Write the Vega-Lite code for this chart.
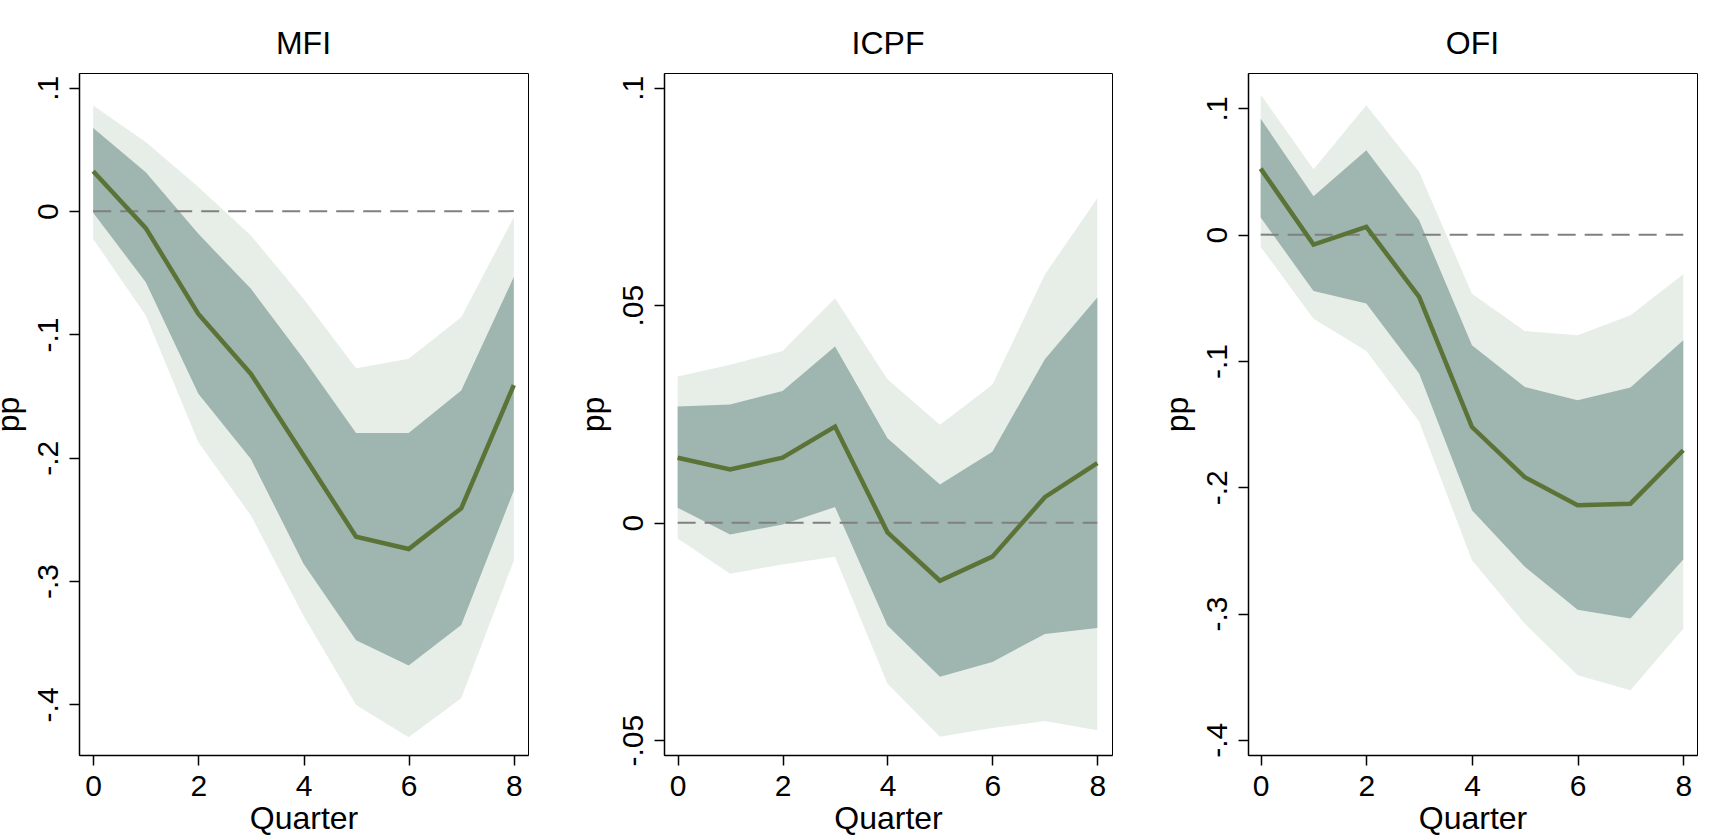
{
  "$schema": "https://vega.github.io/schema/vega-lite/v6.json",
  "background": "white",
  "autosize": {"type": "pad"},
  "padding": {"left": -9, "top": 27, "right": 25, "bottom": 0},
  "bounds": "flush",
  "spacing": 136,
  "data": {"values": [
    {"panel": "MFI", "q": 0, "est": 0.0324, "lo_in": -0.0014, "hi_in": 0.0675, "lo_out": -0.0225, "hi_out": 0.0857},
    {"panel": "MFI", "q": 1, "est": -0.0138, "lo_in": -0.0576, "hi_in": 0.0316, "lo_out": -0.0847, "hi_out": 0.056},
    {"panel": "MFI", "q": 2, "est": -0.0833, "lo_in": -0.148, "hi_in": -0.0184, "lo_out": -0.1874, "hi_out": 0.0195},
    {"panel": "MFI", "q": 3, "est": -0.132, "lo_in": -0.201, "hi_in": -0.063, "lo_out": -0.2469, "hi_out": -0.0198},
    {"panel": "MFI", "q": 4, "est": -0.198, "lo_in": -0.286, "hi_in": -0.1198, "lo_out": -0.328, "hi_out": -0.0711},
    {"panel": "MFI", "q": 5, "est": -0.264, "lo_in": -0.348, "hi_in": -0.18, "lo_out": -0.4004, "hi_out": -0.1274},
    {"panel": "MFI", "q": 6, "est": -0.274, "lo_in": -0.3685, "hi_in": -0.18, "lo_out": -0.4266, "hi_out": -0.1198},
    {"panel": "MFI", "q": 7, "est": -0.241, "lo_in": -0.3355, "hi_in": -0.1455, "lo_out": -0.395, "hi_out": -0.086},
    {"panel": "MFI", "q": 8, "est": -0.141, "lo_in": -0.2266, "hi_in": -0.0535, "lo_out": -0.2834, "hi_out": -0.0049},
    {"panel": "ICPF", "q": 0, "est": 0.01495, "lo_in": 0.00345, "hi_in": 0.0267, "lo_out": -0.0036, "hi_out": 0.0336},
    {"panel": "ICPF", "q": 1, "est": 0.01226, "lo_in": -0.0027, "hi_in": 0.0272, "lo_out": -0.0117, "hi_out": 0.0363},
    {"panel": "ICPF", "q": 2, "est": 0.01495, "lo_in": -0.0004, "hi_in": 0.0303, "lo_out": -0.0096, "hi_out": 0.0395},
    {"panel": "ICPF", "q": 3, "est": 0.0221, "lo_in": 0.0036, "hi_in": 0.0405, "lo_out": -0.0078, "hi_out": 0.0516},
    {"panel": "ICPF", "q": 4, "est": -0.0022, "lo_in": -0.0236, "hi_in": 0.0194, "lo_out": -0.037, "hi_out": 0.033},
    {"panel": "ICPF", "q": 5, "est": -0.01334, "lo_in": -0.0354, "hi_in": 0.0088, "lo_out": -0.0492, "hi_out": 0.0225},
    {"panel": "ICPF", "q": 6, "est": -0.0078, "lo_in": -0.032, "hi_in": 0.0163, "lo_out": -0.0472, "hi_out": 0.0317},
    {"panel": "ICPF", "q": 7, "est": 0.00587, "lo_in": -0.02556, "hi_in": 0.0376, "lo_out": -0.0456, "hi_out": 0.0571},
    {"panel": "ICPF", "q": 8, "est": 0.0137, "lo_in": -0.0242, "hi_in": 0.0518, "lo_out": -0.0477, "hi_out": 0.0746},
    {"panel": "OFI", "q": 0, "est": 0.0523, "lo_in": 0.0135, "hi_in": 0.0918, "lo_out": -0.0097, "hi_out": 0.111},
    {"panel": "OFI", "q": 1, "est": -0.0079, "lo_in": -0.0446, "hi_in": 0.0304, "lo_out": -0.0665, "hi_out": 0.0518},
    {"panel": "OFI", "q": 2, "est": 0.0061, "lo_in": -0.0546, "hi_in": 0.0668, "lo_out": -0.0921, "hi_out": 0.1024},
    {"panel": "OFI", "q": 3, "est": -0.0493, "lo_in": -0.11, "hi_in": 0.0114, "lo_out": -0.148, "hi_out": 0.0496},
    {"panel": "OFI", "q": 4, "est": -0.1523, "lo_in": -0.2182, "hi_in": -0.0876, "lo_out": -0.2578, "hi_out": -0.0467},
    {"panel": "OFI", "q": 5, "est": -0.192, "lo_in": -0.263, "hi_in": -0.1206, "lo_out": -0.308, "hi_out": -0.0762},
    {"panel": "OFI", "q": 6, "est": -0.2143, "lo_in": -0.2969, "hi_in": -0.1311, "lo_out": -0.3489, "hi_out": -0.0797},
    {"panel": "OFI", "q": 7, "est": -0.213, "lo_in": -0.304, "hi_in": -0.1211, "lo_out": -0.3607, "hi_out": -0.0638},
    {"panel": "OFI", "q": 8, "est": -0.1707, "lo_in": -0.2573, "hi_in": -0.0836, "lo_out": -0.312, "hi_out": -0.0314}
  ]},
  "hconcat": [
    {
      "title": "MFI",
      "width": 449, "height": 682,
      "transform": [{"filter": "datum.panel === 'MFI'"}],
      "encoding": {"x": {"field": "q", "type": "quantitative", "title": "Quarter", "scale": {"domain": [-0.27, 8.27], "nice": false, "zero": false}, "axis": {"values": [0, 2, 4, 6, 8]}}},
      "layer": [
        {"mark": {"type": "area", "color": "#e7eee7", "opacity": 1}, "encoding": {"y": {"field": "lo_out", "type": "quantitative", "title": "pp", "scale": {"domain": [-0.441, 0.112], "nice": false, "zero": false}, "axis": {"values": [-0.4, -0.3, -0.2, -0.1, 0, 0.1]}}, "y2": {"field": "hi_out"}}},
        {"mark": {"type": "area", "color": "#9eb5b0", "opacity": 1}, "encoding": {"y": {"field": "lo_in", "type": "quantitative", "title": "pp", "scale": {"domain": [-0.441, 0.112], "nice": false, "zero": false}, "axis": {"values": [-0.4, -0.3, -0.2, -0.1, 0, 0.1]}}, "y2": {"field": "hi_in"}}},
        {"transform": [{"filter": "datum.q === 0"}], "mark": {"type": "rule", "color": "#808080", "strokeWidth": 2, "strokeDash": [18, 9]}, "encoding": {"x": {"datum": 0}, "x2": {"datum": 8}, "y": {"datum": 0, "type": "quantitative", "title": "pp", "scale": {"domain": [-0.441, 0.112], "nice": false, "zero": false}, "axis": {"values": [-0.4, -0.3, -0.2, -0.1, 0, 0.1]}}}},
        {"mark": {"type": "line", "color": "#5c7338", "strokeWidth": 4.5}, "encoding": {"y": {"field": "est", "type": "quantitative", "title": "pp", "scale": {"domain": [-0.441, 0.112], "nice": false, "zero": false}, "axis": {"values": [-0.4, -0.3, -0.2, -0.1, 0, 0.1]}}}}
      ]
    },
    {
      "title": "ICPF",
      "width": 448, "height": 682,
      "transform": [{"filter": "datum.panel === 'ICPF'"}],
      "encoding": {"x": {"field": "q", "type": "quantitative", "title": "Quarter", "scale": {"domain": [-0.26, 8.28], "nice": false, "zero": false}, "axis": {"values": [0, 2, 4, 6, 8]}}},
      "layer": [
        {"mark": {"type": "area", "color": "#e7eee7", "opacity": 1}, "encoding": {"y": {"field": "lo_out", "type": "quantitative", "title": "pp", "scale": {"domain": [-0.0534, 0.1034], "nice": false, "zero": false}, "axis": {"values": [-0.05, 0, 0.05, 0.1]}}, "y2": {"field": "hi_out"}}},
        {"mark": {"type": "area", "color": "#9eb5b0", "opacity": 1}, "encoding": {"y": {"field": "lo_in", "type": "quantitative", "title": "pp", "scale": {"domain": [-0.0534, 0.1034], "nice": false, "zero": false}, "axis": {"values": [-0.05, 0, 0.05, 0.1]}}, "y2": {"field": "hi_in"}}},
        {"transform": [{"filter": "datum.q === 0"}], "mark": {"type": "rule", "color": "#808080", "strokeWidth": 2, "strokeDash": [18, 9]}, "encoding": {"x": {"datum": 0}, "x2": {"datum": 8}, "y": {"datum": 0, "type": "quantitative", "title": "pp", "scale": {"domain": [-0.0534, 0.1034], "nice": false, "zero": false}, "axis": {"values": [-0.05, 0, 0.05, 0.1]}}}},
        {"mark": {"type": "line", "color": "#5c7338", "strokeWidth": 4.5}, "encoding": {"y": {"field": "est", "type": "quantitative", "title": "pp", "scale": {"domain": [-0.0534, 0.1034], "nice": false, "zero": false}, "axis": {"values": [-0.05, 0, 0.05, 0.1]}}}}
      ]
    },
    {
      "title": "OFI",
      "width": 449, "height": 682,
      "transform": [{"filter": "datum.panel === 'OFI'"}],
      "encoding": {"x": {"field": "q", "type": "quantitative", "title": "Quarter", "scale": {"domain": [-0.24, 8.26], "nice": false, "zero": false}, "axis": {"values": [0, 2, 4, 6, 8]}}},
      "layer": [
        {"mark": {"type": "area", "color": "#e7eee7", "opacity": 1}, "encoding": {"y": {"field": "lo_out", "type": "quantitative", "title": "pp", "scale": {"domain": [-0.412, 0.128], "nice": false, "zero": false}, "axis": {"values": [-0.4, -0.3, -0.2, -0.1, 0, 0.1]}}, "y2": {"field": "hi_out"}}},
        {"mark": {"type": "area", "color": "#9eb5b0", "opacity": 1}, "encoding": {"y": {"field": "lo_in", "type": "quantitative", "title": "pp", "scale": {"domain": [-0.412, 0.128], "nice": false, "zero": false}, "axis": {"values": [-0.4, -0.3, -0.2, -0.1, 0, 0.1]}}, "y2": {"field": "hi_in"}}},
        {"transform": [{"filter": "datum.q === 0"}], "mark": {"type": "rule", "color": "#808080", "strokeWidth": 2, "strokeDash": [18, 9]}, "encoding": {"x": {"datum": 0}, "x2": {"datum": 8}, "y": {"datum": 0, "type": "quantitative", "title": "pp", "scale": {"domain": [-0.412, 0.128], "nice": false, "zero": false}, "axis": {"values": [-0.4, -0.3, -0.2, -0.1, 0, 0.1]}}}},
        {"mark": {"type": "line", "color": "#5c7338", "strokeWidth": 4.5}, "encoding": {"y": {"field": "est", "type": "quantitative", "title": "pp", "scale": {"domain": [-0.412, 0.128], "nice": false, "zero": false}, "axis": {"values": [-0.4, -0.3, -0.2, -0.1, 0, 0.1]}}}}
      ]
    }
  ],
  "config": {
    "font": "Liberation Sans",
    "view": {"stroke": "black", "strokeWidth": 1},
    "axis": {
      "grid": false,
      "domainColor": "black", "domainWidth": 1.5,
      "tickColor": "black", "tickWidth": 1.5, "tickSize": 10,
      "labelColor": "black", "titleColor": "black",
      "labelFont": "Liberation Sans", "titleFont": "Liberation Sans",
      "labelFontSize": 30, "titleFontSize": 32, "titleFontWeight": "normal",
      "labelPadding": 6, "labelFlush": false, "labelOverlap": false
    },
    "axisY": {
      "labelAngle": -90, "labelAlign": "center", "labelBaseline": "bottom",
      "titlePadding": 8,
      "labelExpr": "replace('' + datum.value, '0.', '.')"
    },
    "axisX": {"titlePadding": 2},
    "title": {"fontSize": 32, "fontWeight": "normal", "font": "Liberation Sans", "color": "black", "offset": 12, "baseline": "alphabetic", "frame": "group"}
  }
}
